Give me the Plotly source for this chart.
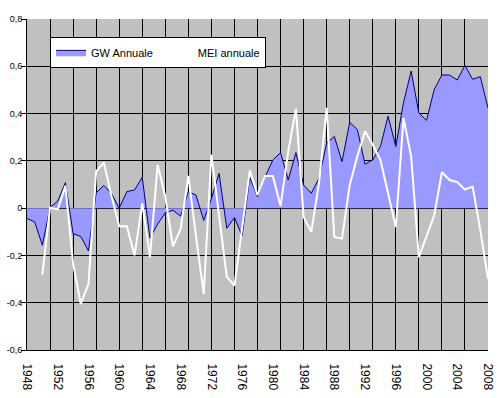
import plotly.graph_objects as go

years = list(range(1948, 2009))

gw_annuale = [
    -0.044, -0.058, -0.157, 0.003, 0.030, 0.108, -0.108, -0.120, -0.181, 0.065,
    0.096, 0.062, 0.000, 0.070, 0.077, 0.131, -0.126, -0.068, -0.020, -0.009,
    -0.034, 0.070, 0.055, -0.052, 0.040, 0.147, -0.085, -0.040, -0.118, 0.130,
    0.048, 0.133, 0.204, 0.235, 0.119, 0.235, 0.098, 0.063, 0.126, 0.275,
    0.303, 0.197, 0.363, 0.332, 0.186, 0.204, 0.261, 0.389, 0.261, 0.446,
    0.580, 0.403, 0.371, 0.502, 0.563, 0.563, 0.542, 0.604, 0.545, 0.556,
    0.424,
]

mei_annuale = [
    None, None, -0.281, 0.003, -0.006, 0.094, -0.235, -0.406, -0.320, 0.155,
    0.193, 0.050, -0.077, -0.077, -0.200, 0.020, -0.207, 0.183, 0.048, -0.162,
    -0.087, 0.136, -0.122, -0.363, 0.226, -0.040, -0.290, -0.328, -0.094, 0.160,
    0.055, 0.136, 0.136, 0.009, 0.240, 0.420, -0.037, -0.100, 0.105, 0.424,
    -0.122, -0.129, 0.098, 0.220, 0.325, 0.268, 0.204, 0.063, -0.080, 0.382,
    0.218, -0.207, -0.122, -0.030, 0.152, 0.119, 0.110, 0.078, 0.091, -0.094,
    -0.300,
]

x_tick_years = list(range(1948, 2009, 4))
y_tick_values = [-0.6, -0.4, -0.2, 0.0, 0.2, 0.4, 0.6, 0.8]
y_tick_labels = ["-0,6", "-0,4", "-0,2", "0", "0,2", "0,4", "0,6", "0,8"]

fig = go.Figure()
# invisible carrier trace so the gridline axis (every 3 years) is drawn
fig.add_trace(go.Scatter(
    x=years, y=gw_annuale, xaxis="x2", mode="lines", opacity=0,
    line=dict(width=0), showlegend=False, hoverinfo="skip",
))
fig.add_trace(go.Scatter(
    x=years, y=gw_annuale, name="GW Annuale", mode="lines",
    fill="tozeroy", fillcolor="#9999FF",
    line=dict(color="#000080", width=1),
))
fig.add_trace(go.Scatter(
    x=years, y=mei_annuale, name="MEI annuale", mode="lines",
    line=dict(color="white", width=2), connectgaps=False,
))

font = "Liberation Sans, Arial, sans-serif"
fig.update_layout(
    width=499, height=398,
    margin=dict(l=27, r=11, t=19, b=48),
    paper_bgcolor="white", plot_bgcolor="#C0C0C0",
    font=dict(family=font, color="black"),
    showlegend=True,
    legend=dict(
        orientation="h", x=0.05, y=0.946, xanchor="left", yanchor="top",
        bgcolor="white", bordercolor="black", borderwidth=1,
        font=dict(size=11, family=font, color="black"),
        itemwidth=30, tracegroupgap=0,
    ),
    xaxis=dict(
        range=[1948, 2008], tickmode="array", tickvals=x_tick_years,
        ticktext=[str(y) for y in x_tick_years], tickangle=90,
        showgrid=False, zeroline=False, showline=True, linecolor="black",
        tickfont=dict(size=12, family=font), ticks="", ticklabelstandoff=10,
        automargin=False,
    ),
    xaxis2=dict(
        overlaying="x", range=[1948, 2008], tick0=1948, dtick=3,
        showgrid=True, gridcolor="black", gridwidth=1,
        showticklabels=False, ticks="", zeroline=False, showline=False,
        side="bottom", automargin=False,
    ),
    yaxis=dict(
        range=[-0.6, 0.8], tickmode="array", tickvals=y_tick_values,
        ticktext=y_tick_labels, showgrid=True, gridcolor="black", gridwidth=1,
        zeroline=True, zerolinecolor="black", zerolinewidth=1,
        showline=True, linecolor="black", ticks="outside", ticklen=5,
        tickcolor="black", tickfont=dict(size=9, family=font),
        ticklabelstandoff=-3, automargin=False,
    ),
)
fig.write_html("out.html", config={"displayModeBar": False},
               post_script="document.body.style.margin='0';")
